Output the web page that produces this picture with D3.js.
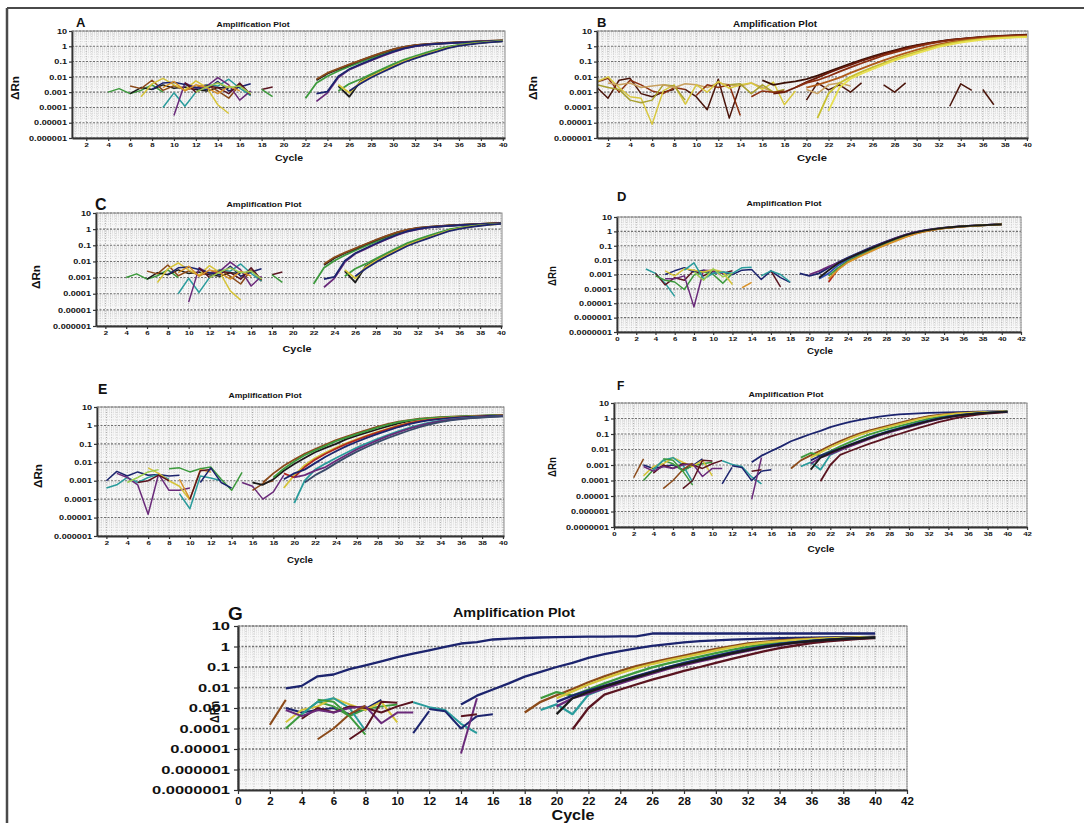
<!DOCTYPE html>
<html><head><meta charset="utf-8">
<script src="https://cdn.jsdelivr.net/npm/d3@7"></script>
<style>
body{margin:0;background:#fff}
svg{display:block}
text{font-family:"Liberation Sans",Arial,sans-serif;font-weight:bold;fill:#111}
</style>
</head><body>
<svg id="chart" width="1084" height="823"></svg>
<script>
// ---------------- tick labels ----------------
const xTicksFrom2 = [2,4,6,8,10,12,14,16,18,20,22,24,26,28,30,32,34,36,38,40];
const xTicksFrom0 = [0,2,4,6,8,10,12,14,16,18,20,22,24,26,28,30,32,34,36,38,40,42];
const yTicks6 = [10,1,0.1,0.01,0.001,0.0001,0.00001,0.000001];
const yTickLabels6 = ["10","1","0.1","0.01","0.001","0.0001","0.00001","0.000001"];
const yTicks7 = [10,1,0.1,0.01,0.001,0.0001,0.00001,0.000001,0.0000001];
const yTickLabels7 = ["10","1","0.1","0.01","0.001","0.0001","0.00001","0.000001","0.0000001"];
const panelLetters = ["A","B","C","D","E","F","G"];
const plotTitle = "Amplification Plot";
const yAxisTitle = "\u0394Rn";
const xAxisTitle = "Cycle";

// ---------------- data: [first cycle, [ΔRn per cycle]] ----------------
const aNoise = [
  [4, [0.0010,0.0017,0.0008,0.0013,0.0030,0.0010]],
  [6, [0.0008,0.0020,0.0015,0.0030,0.0018,0.0022,0.0015,0.0012,0.0020,0.0018]],
  [6, [0.0025,0.0017,0.0060,0.0013,0.0026,0.0014,0.0020,0.0030,0.0012,0.0004,0.0030,0.0006]],
  [7, [0.0005,0.0035,0.0080,0.0030,0.0014,0.0055,0.0020,0.00015,0.00004]],
  [9, [0.0001,0.0009,0.00012,0.0010,0.0030,0.0025,0.0070,0.0018,0.0006]],
  [10,[0.00003,0.0040,0.0018,0.0025,0.0090,0.0030,0.0003,0.0012]],
  [8, [0.0015,0.0040,0.0045,0.0032,0.0020,0.0015,0.0050,0.0012,0.0022,0.0035]],
  [11,[0.0040,0.0010,0.0025,0.0020,0.0008,0.0040,0.0007]],
  [9, [0.0020,0.0050,0.0012,0.0030,0.0020,0.0008,0.0025,0.0012]],
  [12,[0.0010,0.0022,0.0040,0.0020,0.0025,0.0008]],
  [18,[0.0015,0.0022]],
  [18,[0.0015,0.0005]]
];
const aCurves = [
  [22,[0.0004,0.004,0.011,0.024,0.048,0.09,0.17,0.3,0.52,0.8,1.08,1.3,1.46,1.62,1.78,1.92,2.05,2.18,2.3]],
  [23,[0.006,0.016,0.032,0.06,0.115,0.21,0.37,0.62,0.9,1.18,1.38,1.53,1.68,1.82,1.97,2.12,2.25,2.4]],
  [23,[0.007,0.018,0.035,0.065,0.12,0.22,0.38,0.64,0.92,1.2,1.4,1.55,1.7,1.85,2.0,2.15,2.3,2.45]],
  [23,[0.00025,0.0009,0.009,0.03,0.06,0.12,0.23,0.42,0.7,0.98,1.24,1.42,1.58,1.72,1.86,2.0,2.12,2.25]],
  [23,[0.0008,0.0011,0.011,0.032,0.065,0.13,0.25,0.45,0.74,1.02,1.27,1.45,1.6,1.75,1.89,2.02,2.15,2.28]],
  [25,[0.0025,0.0005,0.005,0.012,0.026,0.055,0.115,0.19,0.32,0.53,0.86,1.16,1.46,1.72,1.97,2.2]],
  [25,[0.0012,0.0035,0.007,0.015,0.032,0.068,0.135,0.23,0.38,0.62,0.95,1.25,1.52,1.77,2.0,2.22]],
  [25,[0.0030,0.0009,0.0045,0.011,0.024,0.05,0.105,0.18,0.3,0.5,0.82,1.12,1.42,1.68,1.93,2.15]],
  [26,[0.0012,0.0035,0.009,0.02,0.043,0.09,0.16,0.27,0.45,0.75,1.05,1.35,1.62,1.88,2.1]]
];
const bNoise = [
  [1, [0.0020,0.0004,0.0060,0.0080,0.0008,0.0005,0.0010,0.0015]],
  [1, [0.0045,0.0080,0.0010,0.0060,0.0030,0.0012,0.0008,0.0020,0.0015]],
  [1, [0.0050,0.0100,0.0020,0.0005,0.0004,0.000008,0.0012,0.0030,0.00017]],
  [1, [0.0030,0.0020,0.0015,0.0003,0.0002,0.0003,0.0030,0.0025,0.0003]],
  [2, [0.0040,0.0030,0.0040,0.0020,0.0025,0.0030,0.0020,0.0035,0.0030,0.0020,0.0040,0.0030,0.0025,0.0040,0.0020,0.0010]],
  [9, [0.0015,0.0005,0.00007,0.0070,0.00002,0.0030]],
  [10,[0.0006,0.0030,0.0020,0.0030,0.00003]],
  [9, [0.00015,0.0030,0.0010,0.0050,0.0018,0.0030,0.0040,0.0015,0.0045,0.00015,0.0012]],
  [13,[0.0030,0.0035,0.0008,0.0030,0.0010,0.0015]],
  [15,[0.0005,0.0012,0.0010,0.0012]],
  [20,[0.0003,0.0040,0.0014,0.0030,0.0010,0.0040]],
  [20,[0.0015,0.0008,0.0030,0.0040,0.0025]],
  [27,[0.0030,0.0010,0.0040]],
  [33,[0.00012,0.0035,0.0013]],
  [36,[0.0015,0.00015]]
];
const bCurves = [
  [16,[0.006,0.003,0.004,0.005,0.007,0.012,0.022,0.04,0.075,0.13,0.22,0.36,0.55,0.85,1.2,1.6,2.1,2.6,3.1,3.6,4.1,4.6,5.0,5.4,5.8]],
  [17,[0.0008,0.0010,0.0020,0.0045,0.009,0.018,0.034,0.06,0.11,0.19,0.31,0.49,0.75,1.1,1.55,2.05,2.6,3.1,3.6,4.05,4.45,4.8,5.1,5.4]],
  [19,[0.002,0.004,0.006,0.011,0.022,0.042,0.078,0.14,0.25,0.4,0.63,0.95,1.4,1.9,2.4,2.9,3.4,3.85,4.25,4.6,4.9,5.2]],
  [20,[0.002,0.003,0.005,0.009,0.018,0.035,0.065,0.12,0.21,0.36,0.58,0.9,1.35,1.85,2.35,2.85,3.3,3.7,4.05,4.35,4.6]],
  [21,[0.00002,0.0008,0.004,0.01,0.021,0.042,0.08,0.15,0.26,0.43,0.7,1.1,1.55,2.0,2.5,2.95,3.35,3.7,4.0,4.3]],
  [22,[0.00006,0.002,0.0075,0.016,0.032,0.062,0.12,0.2,0.34,0.55,0.9,1.3,1.75,2.2,2.7,3.1,3.5,3.8,4.0]]
];
const cNoise = aNoise;   // panel C shows the same run as panel A
const cCurves = aCurves;
const dNoise = [
  [3, [0.0024,0.0012,0.00025,0.00003]],
  [4, [0.0012,0.00019,0.0006,0.0004,0.0020,0.0008,0.0018,0.0012,0.0018]],
  [4, [0.0008,0.0004,0.0003,0.00009,0.0009,0.0015,0.0010,0.00025,0.0012]],
  [5, [0.0010,0.0018,0.0030,0.0015,0.0020,0.0012,0.0015,0.0010,0.0020,0.0022,0.00045,0.0018,0.0006,0.00028]],
  [5, [0.0005,0.0005,0.0008,0.0000056,0.0020,0.0018,0.0012]],
  [5, [0.0018,0.0008,0.0025,0.0020,0.0015,0.0022,0.0015,0.0002]],
  [13,[0.00012,0.00028]],
  [7, [0.0020,0.0065,0.0005,0.0012,0.0015,0.0012,0.0030,0.0032]],
  [8, [0.0015,0.0004,0.0025,0.0007,0.0012]],
  [16,[0.0018,0.00014]],
  [15,[0.0008,0.0018,0.0010,0.0003]]
];
const dCurves = [
  [19,[0.0012,0.0008,0.0012,0.0030,0.0070,0.015,0.03,0.058,0.11,0.2,0.36,0.6,0.9,1.2,1.5,1.8,2.05,2.3,2.5,2.7,2.9,3.1]],
  [20,[0.0010,0.0017,0.0035,0.0065,0.013,0.026,0.05,0.1,0.19,0.34,0.58,0.88,1.18,1.48,1.78,2.03,2.28,2.48,2.68,2.88,3.08]],
  [21,[0.0005,0.0012,0.0045,0.011,0.022,0.043,0.085,0.16,0.29,0.5,0.78,1.08,1.4,1.7,1.97,2.22,2.45,2.65,2.85,3.05]],
  [22,[0.0003,0.0025,0.008,0.017,0.034,0.067,0.13,0.24,0.43,0.7,1.02,1.35,1.66,1.94,2.2,2.43,2.64,2.85,3.05]],
  [22,[0.0008,0.0030,0.0085,0.018,0.036,0.07,0.135,0.25,0.44,0.72,1.04,1.37,1.68,1.96,2.22,2.45,2.66,2.86,3.05]],
  [22,[0.0005,0.0022,0.007,0.015,0.031,0.062,0.12,0.22,0.4,0.66,0.98,1.31,1.62,1.9,2.16,2.4,2.62,2.82,3.02]],
  [21,[0.0006,0.0020,0.006,0.013,0.026,0.05,0.095,0.18,0.32,0.54,0.83,1.14,1.45,1.75,2.02,2.27,2.5,2.7,2.9,3.1]]
];
const eNoise = [
  [2, [0.0010,0.0032,0.0018,0.0030,0.0020,0.0022,0.0018,0.0020]],
  [2, [0.0004,0.0006,0.0015,0.0008,0.0015,0.0022,0.0012]],
  [3, [0.0025,0.0015,0.0006,0.000015,0.0023,0.0003,0.0003,0.0004]],
  [6, [0.0050,0.0025,0.0010,0.0005,0.00009]],
  [4, [0.0008,0.0015,0.0030,0.0040]],
  [8, [0.0045,0.0050,0.0030,0.0045,0.0055,0.0012,0.0003,0.0028]],
  [9, [0.0002,0.00003,0.0018,0.0014,0.0010]],
  [9, [0.0012,0.0001,0.0040,0.0030]],
  [10,[0.0001,0.0035,0.0040]],
  [11,[0.0008,0.0050,0.0008,0.0004]],
  [15,[0.0008,0.0005,0.0001,0.00025,0.0020]],
  [16,[0.0003,0.0007,0.0010]],
  [5, [0.0008,0.0010,0.0020,0.0010]]
];
const eCurves = [
  [16,[0.0008,0.0006,0.0012,0.0035,0.008,0.017,0.035,0.06,0.1,0.18,0.28,0.42,0.62,0.92,1.3,1.7,2.05,2.4,2.65,2.85,3.0,3.15,3.3,3.45,3.6]],
  [17,[0.0008,0.0025,0.0065,0.014,0.029,0.052,0.09,0.16,0.25,0.38,0.57,0.85,1.2,1.6,1.95,2.3,2.55,2.78,2.95,3.1,3.25,3.4,3.5,3.6]],
  [18,[0.0015,0.0045,0.011,0.024,0.044,0.078,0.14,0.22,0.34,0.51,0.77,1.1,1.5,1.88,2.22,2.48,2.7,2.9,3.05,3.2,3.35,3.48,3.58]],
  [19,[0.0004,0.0020,0.0070,0.017,0.034,0.062,0.11,0.18,0.29,0.45,0.68,1.0,1.38,1.78,2.12,2.4,2.63,2.83,3.0,3.15,3.3,3.45]],
  [19,[0.0025,0.0015,0.0055,0.014,0.029,0.055,0.1,0.165,0.27,0.42,0.64,0.95,1.32,1.72,2.06,2.35,2.6,2.8,2.98,3.14,3.3,3.45]],
  [19,[0.0012,0.0025,0.0040,0.009,0.02,0.04,0.075,0.13,0.22,0.35,0.54,0.82,1.17,1.55,1.92,2.22,2.48,2.7,2.9,3.07,3.24,3.4]],
  [20,[0.00006,0.0010,0.0040,0.0085,0.017,0.033,0.062,0.11,0.19,0.31,0.49,0.75,1.08,1.45,1.82,2.14,2.42,2.65,2.85,3.03,3.2]],
  [20,[0.0015,0.0020,0.0035,0.0055,0.0120,0.025,0.05,0.09,0.16,0.27,0.43,0.67,0.98,1.35,1.72,2.05,2.35,2.6,2.82,3.0,3.18]],
  [21,[0.0008,0.0020,0.0040,0.0090,0.019,0.038,0.07,0.125,0.21,0.34,0.53,0.8,1.15,1.52,1.88,2.2,2.47,2.7,2.9,3.08]]
];
const fNoise = [
  [2, [0.00015,0.0025]],
  [3, [0.0010,0.0006,0.0008,0.0010,0.0005,0.0009,0.0025]],
  [3, [0.0001,0.0005,0.0020,0.0012,0.0004,0.0009,0.0012,0.0015]],
  [3, [0.0002,0.0008,0.0012,0.0030,0.0015,0.0008,0.0020,0.0002]],
  [4, [0.0005,0.0020,0.0030,0.0010,0.00008]],
  [4, [0.0003,0.0010,0.0006,0.0012,0.0010,0.0006,0.0012,0.0020]],
  [3, [0.0008,0.0004,0.0008,0.0006,0.0010,0.0012,0.00018,0.0006,0.0006]],
  [5, [0.00003,0.0001,0.0005,0.0013]],
  [5, [0.0025,0.0020,0.0004,0.00005]],
  [7, [0.00003,0.0001,0.0020,0.0018]],
  [11,[0.00006,0.0007]],
  [11,[0.0019,0.0011,0.0008,0.00017,0.00006]],
  [12,[0.0009,0.0007,0.0001,0.0004]],
  [14,[0.000006,0.0030]],
  [14,[0.0004,0.0005]],
  [15,[0.0004,0.0005]]
];
const fCurves = [
  [14,[0.0015,0.0040,0.0080,0.016,0.034,0.058,0.1,0.16,0.28,0.42,0.6,0.82,1.07,1.32,1.6,1.82,2.0,2.15,2.3,2.42,2.52,2.6,2.68,2.75,2.82,2.88,2.92]],
  [18,[0.0006,0.0020,0.0042,0.0085,0.018,0.035,0.064,0.11,0.17,0.25,0.36,0.53,0.76,1.05,1.4,1.7,2.0,2.2,2.4,2.55,2.7,2.8,2.9]],
  [19,[0.0030,0.0060,0.0040,0.008,0.016,0.03,0.055,0.095,0.15,0.22,0.32,0.47,0.68,0.95,1.28,1.6,1.9,2.12,2.32,2.5,2.65,2.78]],
  [20,[0.0030,0.0065,0.014,0.027,0.05,0.088,0.14,0.21,0.3,0.44,0.64,0.9,1.22,1.55,1.85,2.1,2.3,2.48,2.62,2.75,2.85]],
  [19,[0.0008,0.0015,0.0005,0.0045,0.009,0.018,0.034,0.06,0.1,0.16,0.24,0.35,0.52,0.74,1.02,1.35,1.65,1.93,2.18,2.4,2.58,2.72]],
  [20,[0.0012,0.0030,0.0050,0.009,0.016,0.028,0.048,0.08,0.125,0.19,0.28,0.42,0.62,0.88,1.18,1.5,1.8,2.05,2.3,2.5,2.68]],
  [21,[0.00009,0.0010,0.0045,0.008,0.014,0.024,0.039,0.065,0.1,0.16,0.25,0.38,0.58,0.83,1.12,1.45,1.78,2.08,2.35,2.6]],
  [20,[0.0020,0.0040,0.0070,0.012,0.021,0.036,0.06,0.1,0.155,0.235,0.35,0.52,0.74,1.02,1.33,1.63,1.9,2.15,2.38,2.56,2.72]],
  [20,[0.0005,0.0030,0.0060,0.011,0.019,0.032,0.054,0.09,0.14,0.21,0.31,0.46,0.67,0.93,1.24,1.55,1.85,2.1,2.34,2.54,2.75]]
];
const gEarlyCurve = [3,[0.009,0.012,0.035,0.043,0.078,0.12,0.19,0.30,0.45,0.65,0.95,1.4,1.65,2.2,2.4,2.6,2.75,2.85,2.95,3.0,3.05,3.1,3.15,4.3,4.3,4.3,4.3,4.3,4.3,4.3,4.3,4.3,4.3,4.3,4.3,4.3,4.3,4.3]];
const gNoise = fNoise;   // panel G repeats the runs of panel F
const gCurves = [gEarlyCurve].concat(fCurves);

// ---------------- styles ----------------
const C = {black:'#1b1b1b', brown:'#8b4a1a', darkred:'#5a1420', green:'#3d9a3d', lightgreen:'#9ccc50',
  yellow:'#d6c43a', orange:'#d8922a', teal:'#2a9c9c', navy:'#1c246e', purple:'#6a2a7a', blue:'#2f4fb5',
  red:'#b0281e', slate:'#3a4a6a'};
const aNoiseColors = [C.green,C.black,C.brown,C.yellow,C.teal,C.purple,C.navy,C.darkred,C.orange,C.lightgreen,C.darkred,C.green];
const aCurveColors = [C.green,C.black,C.brown,C.purple,C.navy,C.black,C.green,C.yellow,C.navy];
const bNoiseColors = ['#4a140a','#8b3010','#d8c840','#a8a030','#c8a060','#4a140a','#8b3010','#d8c840','#a8a030','#8b3010','#4a140a','#c8a060','#4a140a','#4a140a','#4a140a'];
const bCurveColors = ['#3a0f06','#6a1a0a','#8b2e10','#b05a1a','#c8c030','#e8e050'];
const dNoiseColors = [C.teal,C.darkred,C.green,C.navy,C.purple,C.yellow,C.orange,C.teal,C.lightgreen,C.darkred,C.teal];
const dCurveColors = [C.navy,C.purple,C.blue,C.red,C.green,C.orange,C.black];
const eNoiseColors = [C.navy,C.teal,C.purple,C.yellow,C.lightgreen,C.green,C.teal,C.orange,C.darkred,C.navy,C.purple,C.brown,C.darkred];
const eCurveColors = [C.black,C.brown,C.green,C.yellow,C.red,C.navy,C.teal,C.purple,C.slate];
const fNoiseColors = [C.brown,C.navy,C.green,C.yellow,C.teal,C.darkred,C.purple,C.brown,C.green,C.darkred,C.navy,C.teal,C.navy,C.purple,C.darkred,C.navy];
const fCurveColors = [C.navy,C.brown,C.green,C.yellow,C.teal,C.purple,C.darkred,C.navy,C.black];
const gCurveColors = [C.navy].concat(fCurveColors);

// ---------------- layout ----------------
const panels = [
 {box:[72,31,505,138], xd:[0.7,40.2], yd:[1e-6,10], xt:xTicksFrom2, yt:yTicks6, yl:yTickLabels6,
  noise:aNoise, nc:aNoiseColors, curves:aCurves, cc:aCurveColors,
  letter:[76,27,13], title:[253,27,73,7.5], ylab:[15,88,24], xlab:[289,161,28], big:false},
 {box:[597,31,1028,138], xd:[1,40.1], yd:[1e-6,10], xt:xTicksFrom2, yt:yTicks6, yl:yTickLabels6,
  noise:bNoise, nc:bNoiseColors, curves:bCurves, cc:bCurveColors,
  letter:[597,27,13], title:[775,27,84,8.5], ylab:[533,88,24], xlab:[812,161,30], big:false},
 {box:[96,213,502,326], xd:[1.1,40.1], yd:[1e-6,10], xt:xTicksFrom2, yt:yTicks6, yl:yTickLabels6,
  noise:cNoise, nc:aNoiseColors, curves:cCurves, cc:aCurveColors,
  letter:[95,210,16], title:[264,207,75,7.5], ylab:[36,277,24], xlab:[297,352,29], big:false},
 {box:[617,217,1021,332], xd:[0,42], yd:[1e-7,10], xt:xTicksFrom0, yt:yTicks7, yl:yTickLabels7,
  noise:dNoise, nc:dNoiseColors, curves:dCurves, cc:dCurveColors,
  letter:[617,201,13], title:[784,206,75,7.5], ylab:[552,276,20], xlab:[820,354,26], big:false},
 {box:[97,407,504,536], xd:[1.1,40.1], yd:[1e-6,10], xt:xTicksFrom2, yt:yTicks6, yl:yTickLabels6,
  noise:eNoise, nc:eNoiseColors, curves:eCurves, cc:eCurveColors,
  letter:[98,394,14], title:[265,398,73,7.5], ylab:[38,476,24], xlab:[300,563,26], big:false},
 {box:[614,403,1027,527], xd:[0,42], yd:[1e-7,10], xt:xTicksFrom0, yt:yTicks7, yl:yTickLabels7,
  noise:fNoise, nc:fNoiseColors, curves:fCurves, cc:fCurveColors,
  letter:[617,390,12], title:[786,397,75,7.5], ylab:[552,467,20], xlab:[821,552,27], big:false},
 {box:[238,626,907,790], xd:[0,42], yd:[1e-7,10], xt:xTicksFrom0, yt:yTicks7, yl:yTickLabels7,
  noise:gNoise, nc:fNoiseColors, curves:gCurves, cc:gCurveColors,
  letter:[228,620,19], title:[514,617,122,12.5], ylab:[214,712,22], xlab:[573,820,43], big:true}
];

const svg = d3.select('#chart');
svg.append('line').attr('x1',7).attr('y1',8).attr('x2',1084).attr('y2',8).attr('stroke','#4a4a4a').attr('stroke-width',2);
svg.append('line').attr('x1',7).attr('y1',8).attr('x2',7).attr('y2',823).attr('stroke','#4a4a4a').attr('stroke-width',2.5);

function stretch(sel, k){
  sel.each(function(){
    const w = this.getComputedTextLength();
    if (w > 0) d3.select(this).attr('textLength', w*k).attr('lengthAdjust','spacingAndGlyphs');
  });
}

function drawPanel(P, idx){
  const [L,T,R,B] = P.box;
  const g = svg.append('g');
  const x = d3.scaleLinear().domain(P.xd).range([L,R]);
  const y = d3.scaleLog().domain(P.yd).range([B,T]);
  g.append('rect').attr('x',L).attr('y',T).attr('width',R-L).attr('height',B-T).attr('fill','#f7f7f7');

  // vertical grid every half cycle
  const vs = d3.range(Math.ceil(P.xd[0]*2)/2, P.xd[1]+1e-9, 0.5);
  g.append('g').selectAll('line').data(vs).join('line')
    .attr('x1',d=>x(d)).attr('x2',d=>x(d)).attr('y1',T).attr('y2',B)
    .attr('stroke',d=> d%2===0 ? '#8e8e8e' : '#bdbdbd')
    .attr('stroke-width',P.big?1:0.8).attr('stroke-dasharray','1,1.5');
  // horizontal grid
  const e0 = Math.round(Math.log10(P.yd[0])), e1 = Math.round(Math.log10(P.yd[1]));
  const minors = [];
  for (let e=e0; e<e1; e++) for (let k=2; k<=9; k++) minors.push(k*Math.pow(10,e));
  g.append('g').selectAll('line').data(minors).join('line')
    .attr('x1',L).attr('x2',R).attr('y1',d=>y(d)).attr('y2',d=>y(d))
    .attr('stroke','#d0d0d0').attr('stroke-width',0.6).attr('stroke-dasharray','1,1');
  g.append('g').selectAll('line').data(P.yt).join('line')
    .attr('x1',L).attr('x2',R).attr('y1',d=>y(d)).attr('y2',d=>y(d))
    .attr('stroke','#707070').attr('stroke-width',P.big?1.4:1.1).attr('stroke-dasharray','2,1.5');

  // series
  const cid = 'clip'+idx;
  g.append('clipPath').attr('id',cid).append('rect').attr('x',L).attr('y',T).attr('width',R-L).attr('height',B-T);
  const line = d3.line().x(d=>x(d[0])).y(d=>y(d[1]));
  const toPts = s => s[1].map((v,i)=>[s[0]+i, v]);
  const sg = g.append('g').attr('clip-path',`url(#${cid})`);
  const lw = P.big ? 2 : 1.5;
  P.noise.forEach((s,i)=> sg.append('path').attr('d',line(toPts(s))).attr('fill','none')
    .attr('stroke',P.nc[i % P.nc.length]).attr('stroke-width',lw).attr('stroke-linejoin','round'));
  P.curves.forEach((s,i)=> sg.append('path').attr('d',line(toPts(s))).attr('fill','none')
    .attr('stroke',P.cc[i % P.cc.length]).attr('stroke-width',lw+0.3).attr('stroke-linejoin','round'));

  // border
  g.append('rect').attr('x',L).attr('y',T).attr('width',R-L).attr('height',B-T)
    .attr('fill','none').attr('stroke','#8c8c8c').attr('stroke-width',1);

  // axes
  const ya = g.append('g').attr('transform',`translate(${L},0)`)
    .call(d3.axisLeft(y).tickValues(P.yt).tickFormat((d,i)=>P.yl[i]).tickSize(P.big?4:3).tickSizeOuter(0).tickPadding(P.big?4:2));
  const xa = g.append('g').attr('transform',`translate(0,${B})`)
    .call(d3.axisBottom(x).tickValues(P.xt).tickFormat(d=>String(d)).tickSize(P.big?4:3).tickSizeOuter(0).tickPadding(P.big?3:2));
  [ya,xa].forEach(a=>{
    a.select('.domain').attr('stroke','#333').attr('stroke-width',P.big?2.2:1.8);
    a.selectAll('.tick line').attr('stroke','#333').attr('stroke-width',1.2);
    a.selectAll('text').attr('font-family','"Liberation Sans",Arial,sans-serif').attr('font-weight','bold').attr('fill','#111');
  });
  ya.selectAll('text').attr('font-size',P.big?11:7);
  xa.selectAll('text').attr('font-size',P.big?11.5:6);
  stretch(ya.selectAll('text'), P.big?1.5:1.3);
  stretch(xa.selectAll('text'), P.big?1.0:1.3);

  // texts
  g.append('text').attr('x',P.letter[0]).attr('y',P.letter[1]).attr('font-size',P.letter[2])
    .attr('font-family','"Liberation Sans",Arial,sans-serif').text(panelLetters[idx]);
  g.append('text').attr('x',P.title[0]).attr('y',P.title[1]).attr('text-anchor','middle')
    .attr('font-size',P.title[3]).attr('textLength',P.title[2]).attr('lengthAdjust','spacingAndGlyphs').text(plotTitle);
  g.append('text').attr('transform',`translate(${P.ylab[0]},${P.ylab[1]}) rotate(-90)`)
    .attr('text-anchor','middle').attr('dominant-baseline','central')
    .attr('font-size',P.big?13:10).attr('textLength',P.ylab[2]).attr('lengthAdjust','spacingAndGlyphs').text(yAxisTitle);
  g.append('text').attr('x',P.xlab[0]).attr('y',P.xlab[1]).attr('text-anchor','middle')
    .attr('font-size',P.big?14:9.5).attr('textLength',P.xlab[2]).attr('lengthAdjust','spacingAndGlyphs').text(xAxisTitle);
}
panels.forEach(drawPanel);
</script>
</body></html>
